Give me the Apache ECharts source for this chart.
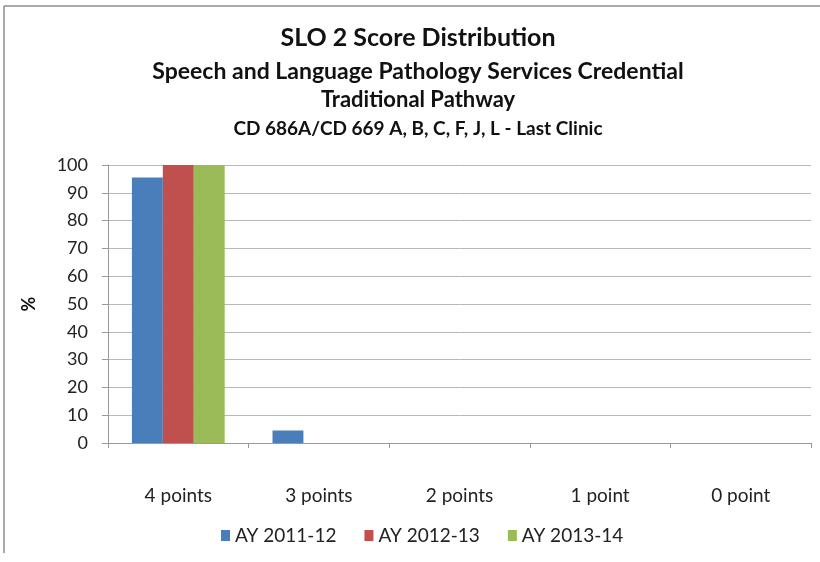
<!DOCTYPE html>
<html>
<head>
<meta charset="utf-8">
<script src="https://cdn.jsdelivr.net/npm/echarts@6/dist/echarts.min.js"></script>
<style>
  html, body { margin: 0; padding: 0; background: #fff; }
  #chart { width: 820px; height: 562px; }
</style>
</head>
<body>
<div id="chart"></div>
<script>
const categories = ['4 points', '3 points', '2 points', '1 point', '0 point'];
const seriesNames = ['AY 2011-12', 'AY 2012-13', 'AY 2013-14'];
const ay201112 = [95.5, 4.5, 0, 0, 0];
const ay201213 = [100, 0, 0, 0, 0];
const ay201314 = [100, 0, 0, 0, 0];
const colors = ['#4a7ebb', '#c0504d', '#9bbb59'];

const font = 'Lato, "Open Sans", sans-serif';
const chart = echarts.init(document.getElementById('chart'));

// title lines, centred at x=418
function titleLine(text, y, size) {
  return {
    type: 'text', x: 418, y: y,
    style: { text: text, font: 'bold ' + size + 'px ' + font, fill: '#111', textAlign: 'center', textVerticalAlign: 'middle' }
  };
}

const option = {
  animation: false,
  color: colors,
  graphic: [
    { type: 'line', shape: { x1: 4, y1: 6, x2: 820, y2: 6 }, style: { stroke: '#8c8c8c', lineWidth: 1.5 } },
    { type: 'line', shape: { x1: 4, y1: 6, x2: 4, y2: 553 }, style: { stroke: '#8c8c8c', lineWidth: 1.5 } },
    titleLine('SLO 2 Score Distribution', 38, 25),
    titleLine('Speech and Language Pathology Services Credential', 72, 23),
    titleLine('Traditional Pathway', 100, 22),
    titleLine('CD 686A/CD 669 A, B, C, F, J, L - Last Clinic', 129, 19)
  ],
  legend: {
    data: seriesNames,
    bottom: 12,
    left: 216,
    itemWidth: 9,
    itemHeight: 11,
    itemGap: 28,
    icon: 'rect',
    textStyle: { fontFamily: font, fontSize: 19, color: '#222' }
  },
  grid: { left: 108, right: 9, top: 165, bottom: 119 },
  xAxis: {
    type: 'category',
    data: categories,
    axisLine: { lineStyle: { color: '#999' } },
    axisTick: { show: true, length: 5, lineStyle: { color: '#999' } },
    axisLabel: { fontFamily: font, fontSize: 19, color: '#222', margin: 43 }
  },
  yAxis: {
    type: 'value',
    min: 0,
    max: 100,
    interval: 10,
    name: '%',
    nameLocation: 'middle',
    nameGap: 70,
    nameRotate: 90,
    nameTextStyle: { fontFamily: font, fontSize: 18, fontWeight: 'bold', color: '#111' },
    axisLine: { show: true, lineStyle: { color: '#999' } },
    axisTick: { show: true, length: 6, lineStyle: { color: '#999' } },
    axisLabel: { fontFamily: font, fontSize: 18, color: '#222', margin: 20 },
    splitLine: { lineStyle: { color: '#b8b8b8' } }
  },
  series: [
    { name: seriesNames[0], type: 'bar', data: ay201112, barGap: '0%', barCategoryGap: '34%' },
    { name: seriesNames[1], type: 'bar', data: ay201213, barGap: '0%', barCategoryGap: '34%' },
    { name: seriesNames[2], type: 'bar', data: ay201314, barGap: '0%', barCategoryGap: '34%' }
  ]
};

chart.setOption(option);
</script>
</body>
</html>
